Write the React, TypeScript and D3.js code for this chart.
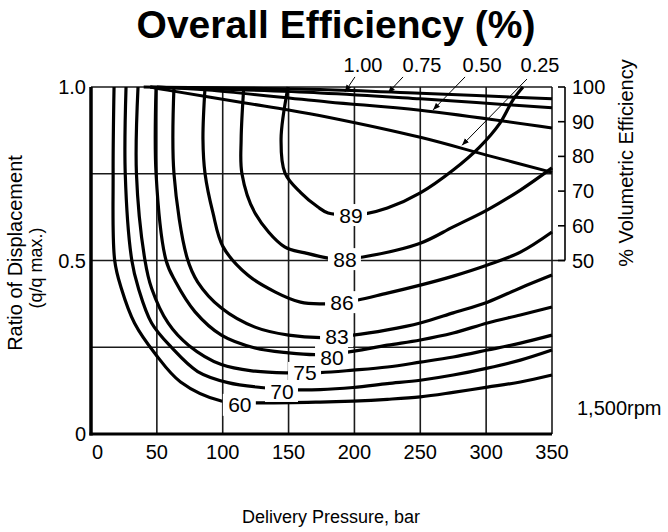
import React from "react";
import * as d3 from "d3";

// ---------- data ----------
const xTicks = [0, 50, 100, 150, 200, 250, 300, 350];
const yTickValues = [0, 0.5, 1.0];
const yTickLabels = ["0", "0.5", "1.0"];
const yGrid = [0.25, 0.5, 0.75, 1.0];
const volTicks = [50, 60, 70, 80, 90, 100];

// overall-efficiency contours: [pressure (bar), ratio of displacement]
const c60 = [[17.5, 1], [16.8, 0.75], [18, 0.5], [23, 0.42], [33, 0.32], [49, 0.23], [68, 0.15], [99, 0.095], [122, 0.09], [174, 0.092], [199, 0.095], [225, 0.1], [250, 0.107], [275, 0.12], [301, 0.135], [326, 0.15], [350, 0.17]];
const c70 = [[26.6, 1], [26, 0.75], [31, 0.5], [36, 0.42], [46, 0.32], [61, 0.25], [81, 0.18], [104, 0.148], [129, 0.134], [150, 0.128], [174, 0.128], [199, 0.134], [225, 0.145], [250, 0.155], [275, 0.17], [301, 0.19], [326, 0.213], [350, 0.242]];
const c75 = [[35.7, 1], [34.5, 0.75], [41, 0.5], [46, 0.42], [58.5, 0.32], [74, 0.256], [99, 0.2], [124.5, 0.181], [150, 0.176], [174, 0.177], [199, 0.184], [225, 0.193], [250, 0.207], [275, 0.222], [301, 0.242], [326, 0.262], [350, 0.285]];
const c80 = [[49.4, 1], [49.4, 0.75], [57, 0.5], [64, 0.44], [79, 0.352], [99, 0.285], [124.5, 0.248], [150, 0.234], [170, 0.229], [191, 0.234], [225, 0.256], [250, 0.271], [275, 0.291], [301, 0.32], [326, 0.343], [350, 0.366]];
const c83 = [[63, 1], [63, 0.75], [73, 0.507], [81, 0.438], [99, 0.363], [124.5, 0.308], [150, 0.285], [175, 0.278], [199, 0.285], [225, 0.3], [250, 0.32], [275, 0.349], [301, 0.38], [326, 0.421], [350, 0.458]];
const c86 = [[86.6, 1], [85, 0.85], [86.6, 0.75], [92.6, 0.637], [100.2, 0.54], [119, 0.458], [140, 0.409], [159, 0.38], [175, 0.375], [191, 0.378], [225, 0.406], [250, 0.429], [275, 0.455], [301, 0.487], [326, 0.524], [350, 0.582]];
const c88 = [[116, 1], [114, 0.85], [114.6, 0.75], [124.5, 0.637], [147, 0.539], [162.5, 0.522], [180, 0.507], [193, 0.504], [206.5, 0.51], [250, 0.55], [275, 0.597], [301, 0.646], [326, 0.703], [350, 0.767]];
const c89 = [[149.6, 1], [144.3, 0.85], [147.3, 0.752], [159.4, 0.695], [172.3, 0.654], [180, 0.637], [197, 0.631], [206.5, 0.633], [225, 0.651], [250, 0.695], [275, 0.761], [295, 0.827], [310.5, 0.896], [320.4, 0.963], [328, 1]];
const contourLevels = ["60", "70", "75", "80", "83", "86", "88", "89"];
const contours = [c60, c70, c75, c80, c83, c86, c88, c89];
const contourLabelP = [113, 145, 162.5, 183, 186.8, 190.6, 192.8, 197.4];
const contourLabelR = [0.084, 0.124, 0.176, 0.222, 0.282, 0.38, 0.504, 0.631];

// volumetric-efficiency lines: [pressure, vol. eff %]
const v100 = [[40, 100], [174, 99.3], [250, 98.2], [350, 96.6]];
const v075 = [[45, 100], [174, 98.3], [250, 96.6], [350, 94]];
const v050 = [[50, 100], [89, 99.1], [180, 95.7], [250, 93.3], [350, 88.2]];
const v025 = [[45, 100], [58, 99.1], [117, 95.4], [150, 93.4], [180, 91.3], [250, 85.5], [301, 80.3], [350, 75.4]];
const volLines = [v100, v075, v050, v025];
const volLabels = ["1.00", "0.75", "0.50", "0.25"];
const volLabelP = [206.5, 251.3, 296.9, 340.9];
const volLabelV = 106.4;
const arrowTailP = [200.4, 236.9, 284, 331];
const arrowTailV = [102.9, 102.9, 102.9, 102.3];
const arrowTipP = [192.8, 225.5, 259.7, 281.7];
const arrowTipV = [98.6, 98.3, 93.4, 83.2];

// ---------- chart ----------
const W = 668;
const H = 532;
const FONT = "'Liberation Sans', Arial, Helvetica, sans-serif";

export default function App() {
  const x = d3.scaleLinear().domain([0, 350]).range([91, 552]);
  const y = d3.scaleLinear().domain([0, 1]).range([434, 87]);
  const yV = d3.scaleLinear().domain([50, 100]).range([y(0.5), y(1)]);

  const cLine = d3
    .line<number[]>()
    .x((d) => x(d[0]))
    .y((d) => y(d[1]))
    .curve(d3.curveCatmullRom.alpha(0.5));
  const vLine = d3
    .line<number[]>()
    .x((d) => x(d[0]))
    .y((d) => yV(d[1]))
    .curve(d3.curveCatmullRom.alpha(0.5));

  const axisX = 565;

  return (
    <svg
      width={W}
      height={H}
      style={{ position: "absolute", left: 0, top: 0, background: "#fff" }}
      fontFamily={FONT}
    >
      <defs>
        <marker id="arr" viewBox="0 0 10 10" refX="10" refY="5" markerWidth="7" markerHeight="7" orient="auto">
          <path d="M0,1 L10,5 L0,9 z" fill="#000" />
        </marker>
      </defs>

      {/* title */}
      <text x={336} y={38} textAnchor="middle" fontSize={39} fontWeight="bold">
        Overall Efficiency (%)
      </text>

      {/* grid */}
      {xTicks.slice(1).map((t) => (
        <line key={"gx" + t} x1={x(t)} x2={x(t)} y1={y(1)} y2={y(0)} stroke="#1a1a1a" strokeWidth={1.6} />
      ))}
      {yGrid.map((t) => (
        <line key={"gy" + t} x1={x(0)} x2={t === 0.5 ? axisX : x(350)} y1={y(t)} y2={y(t)} stroke="#1a1a1a" strokeWidth={1.6} />
      ))}

      {/* right volumetric axis */}
      <line x1={axisX} x2={axisX} y1={yV(100)} y2={yV(50)} stroke="#000" strokeWidth={1.6} />
      {volTicks.map((t) => (
        <g key={"vt" + t}>
          <line x1={axisX - 7} x2={axisX} y1={yV(t)} y2={yV(t)} stroke="#000" strokeWidth={1.6} />
          <text x={572} y={yV(t)} dy="0.35em" fontSize={20}>
            {t}
          </text>
        </g>
      ))}
      <text
        transform={`translate(633,163) rotate(-90)`}
        textAnchor="middle"
        fontSize={20}
      >
        % Volumetric Efficiency
      </text>

      {/* volumetric efficiency lines */}
      {volLines.map((l, i) => (
        <path key={"vl" + i} d={vLine(l) || ""} fill="none" stroke="#000" strokeWidth={3} />
      ))}

      {/* contours */}
      {contours.map((c, i) => (
        <path key={"c" + i} d={cLine(c) || ""} fill="none" stroke="#000" strokeWidth={3.2} strokeLinejoin="round" />
      ))}
      {contourLevels.map((lv, i) => (
        <g key={"cl" + lv}>
          <rect
            x={x(contourLabelP[i]) - 17}
            y={y(contourLabelR[i]) - 11}
            width={33}
            height={22}
            fill="#fff"
          />
          <text x={x(contourLabelP[i])} y={y(contourLabelR[i])} dy="0.36em" textAnchor="middle" fontSize={21}>
            {lv}
          </text>
        </g>
      ))}

      {/* annotation arrows and labels */}
      {volLabels.map((lb, i) => (
        <g key={"va" + lb}>
          <text x={x(volLabelP[i])} y={yV(volLabelV)} dy="0.36em" textAnchor="middle" fontSize={20}>
            {lb}
          </text>
          <line
            x1={x(arrowTailP[i])}
            y1={yV(arrowTailV[i])}
            x2={x(arrowTipP[i])}
            y2={yV(arrowTipV[i])}
            stroke="#000"
            strokeWidth={1}
            markerEnd="url(#arr)"
          />
        </g>
      ))}

      {/* main axes */}
      <line x1={x(0)} x2={x(0)} y1={y(1)} y2={y(0) + 1.5} stroke="#000" strokeWidth={3.5} />
      <line x1={x(0) - 1.5} x2={x(350)} y1={y(0)} y2={y(0)} stroke="#000" strokeWidth={3} />

      {/* x tick labels */}
      {xTicks.map((t) => (
        <text
          key={"xt" + t}
          x={t === 0 ? x(t) + 1 : x(t)}
          y={452}
          dy="0.36em"
          textAnchor={t === 0 ? "start" : "middle"}
          fontSize={20}
        >
          {t}
        </text>
      ))}
      {/* y tick labels */}
      {yTickValues.map((t, i) => (
        <text key={"yt" + t} x={86} y={y(t)} dy="0.36em" textAnchor="end" fontSize={20}>
          {yTickLabels[i]}
        </text>
      ))}

      {/* axis titles */}
      <text x={331} y={517} dy="0.36em" textAnchor="middle" fontSize={18}>
        Delivery Pressure, bar
      </text>
      <text transform="translate(22,253) rotate(-90)" textAnchor="middle" fontSize={20}>
        Ratio of Displacement
      </text>
      <text transform="translate(42,268) rotate(-90)" textAnchor="middle" fontSize={18}>
        (q/q max.)
      </text>

      <text x={577} y={408} dy="0.36em" fontSize={20}>
        1,500rpm
      </text>
    </svg>
  );
}
